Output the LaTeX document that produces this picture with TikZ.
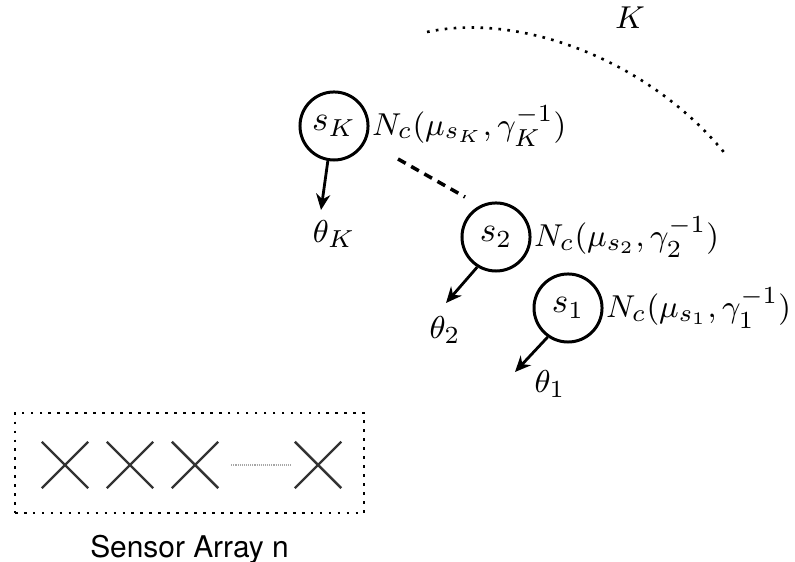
\documentclass[tikz,border=0pt]{standalone}
\usepackage{fontspec}
\newfontfamily\sensorfont{TeX Gyre Heros}
\usetikzlibrary{arrows.meta, positioning, shapes.misc}

\begin{document}
\begin{tikzpicture}[
  x=0.01cm, y=-0.01cm,
  latent/.style={circle, draw, line width=0.85pt, minimum size=0.68cm,
                 inner sep=0pt, font=\fontsize{10}{12}\selectfont},
  param/.style={inner sep=0pt, font=\fontsize{9.4}{12}\selectfont},
  arr/.style={-{Stealth[length=4.5pt, width=4pt]}, line width=0.8pt},
  sensor/.style={cross out, draw=black!80, line width=0.7pt,
                 minimum size=0.44cm, inner sep=0pt},
  dots/.style={line width=0.75pt, dash pattern=on 0.75pt off 1.8pt}
]
  \useasboundingbox (0,0) rectangle (795,562);

  % sources
  \node[latent] (sK) at (334,126) {$s_K$};
  \node[latent] (sTwo) at (496,237) {$s_2$};
  \node[latent] (sOne) at (568,308) {$s_1$};

  \node[param, right=0.02cm of sK] (nK) {$N_c(\mu_{s_K},\gamma_K^{-1})$};
  \node[param, right=0.02cm of sTwo] (nTwo) {$N_c(\mu_{s_2},\gamma_2^{-1})$};
  \node[param, right=0.02cm of sOne] (nOne) {$N_c(\mu_{s_1},\gamma_1^{-1})$};

  % directions
  \node[param] (thK) at (334,234) {$\theta_K$};
  \node[param] (thTwo) at (445,330) {$\theta_2$};
  \node[param] (thOne) at (550,384) {$\theta_1$};

  \coordinate (tipK) at (321,210);
  \coordinate (tipTwo) at (446,303);
  \coordinate (tipOne) at (515,372);
  \draw[arr] (sK.-100) -- (tipK);
  \draw[arr] (sTwo.-122) -- (tipTwo);
  \draw[arr] (sOne.-125) -- (tipOne);

  \coordinate (dashA) at (398,159);
  \coordinate (dashB) at (465,197);
  \draw[line width=1pt, dash pattern=on 2.5pt off 1.8pt] (dashA) -- (dashB);

  \draw[dots] (427,32) .. controls (520,12) and (650,60) .. (727,156);
  \node[param] (numK) at (630,18) {$K$};

  % sensor array
  \node[dots, draw, minimum width=3.49cm, minimum height=1cm,
        inner sep=0pt] (array) at (189.5,463) {};
  \node[sensor] (xOne) at (65,465) {};
  \node[sensor] (xTwo) at (130,465) {};
  \node[sensor] (xThree) at (195,465) {};
  \node[sensor] (xN) at (318,465) {};
  \draw[black!35, line width=0.3pt, dash pattern=on 0.3pt off 0.3pt,
        shorten <=0.13cm, shorten >=0.03cm] (xThree.east) -- (xN.west);

  \node[font=\sensorfont\fontsize{8.5}{10}\selectfont, below=0.08cm of array]
    (label) {Sensor Array n};
\end{tikzpicture}
\end{document}
